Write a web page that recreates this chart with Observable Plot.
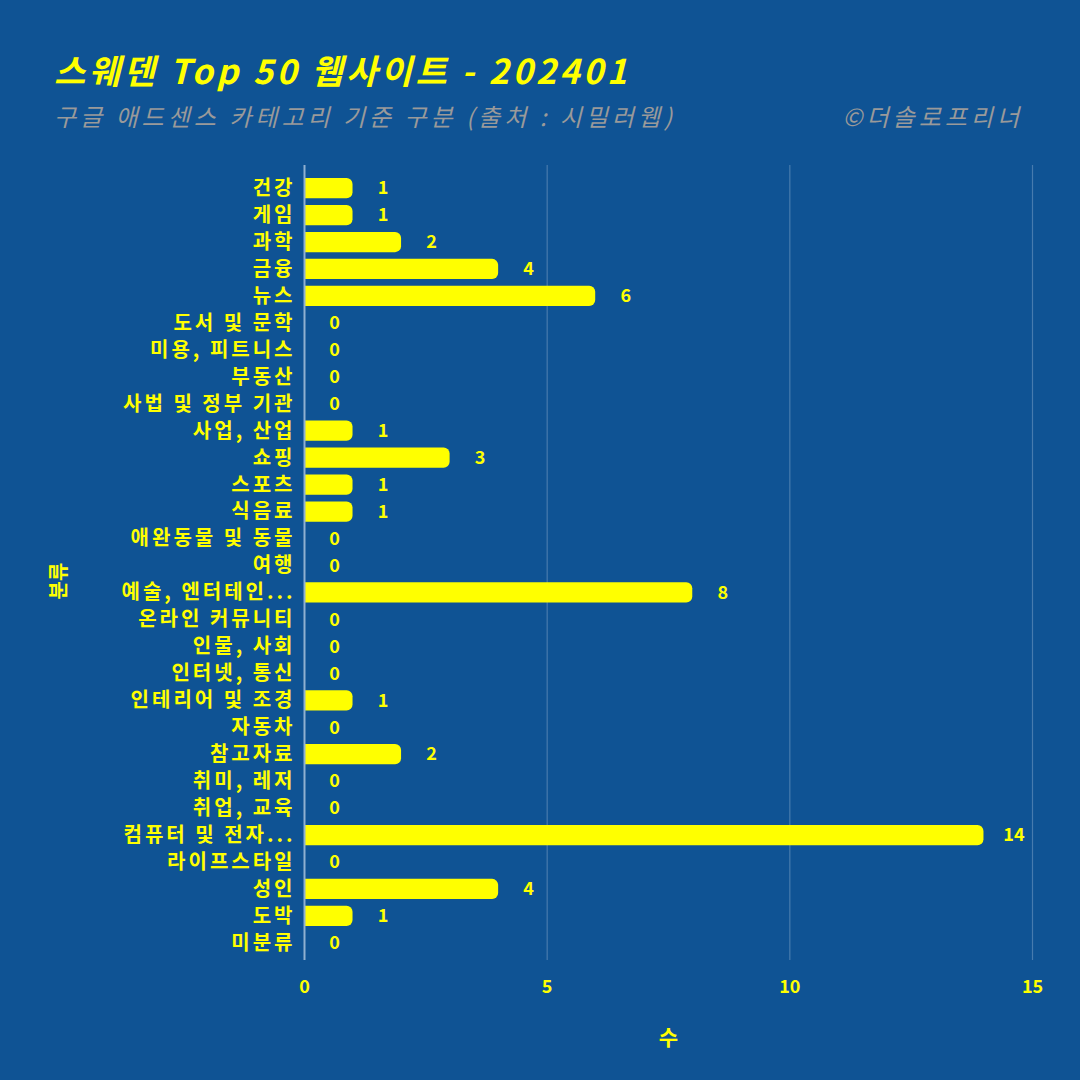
<!DOCTYPE html>
<html><head><meta charset="utf-8">
<script src="https://cdn.jsdelivr.net/npm/d3@7"></script>
<script src="https://cdn.jsdelivr.net/npm/@observablehq/plot@0.6"></script>
<style>
html,body{margin:0;padding:0;background:#0f5394;}
#wrap{position:relative;width:1080px;height:1080px;background:#0f5394;overflow:hidden;font-family:"Noto Sans CJK KR","Noto Sans",sans-serif;}
#title{position:absolute;left:54px;top:45px;font-size:34px;letter-spacing:3.5px;font-weight:bold;font-style:italic;color:#ffff00;white-space:nowrap;}
#subtitle{position:absolute;left:54px;top:98px;font-size:24px;letter-spacing:4px;font-style:italic;color:#9a9a9a;white-space:nowrap;}
#credit{position:absolute;right:57px;top:98px;font-size:24px;letter-spacing:4px;font-style:italic;color:#9a9a9a;white-space:nowrap;}
#ylab{position:absolute;left:57px;top:581px;font-size:20px;font-weight:bold;color:#ffff00;transform:translate(-50%,-50%) rotate(-90deg);white-space:nowrap;}
#chart{position:absolute;left:0;top:0;}
#chart g[aria-label="y-axis tick label"] text{letter-spacing:3px;}
</style></head>
<body><div id="wrap">
<div id="chart"></div>
<div id="title">스웨덴 Top 50 웹사이트 - 202401</div>
<div id="subtitle">구글 애드센스 카테고리 기준 구분 (출처 : 시밀러웹)</div>
<div id="credit">©더솔로프리너</div>
<div id="ylab">분류</div>
</div>
<script>
const categories = ["건강","게임","과학","금융","뉴스","도서 및 문학","미용, 피트니스","부동산","사법 및 정부 기관","사업, 산업","쇼핑","스포츠","식음료","애완동물 및 동물","여행","예술, 엔터테인...","온라인 커뮤니티","인물, 사회","인터넷, 통신","인테리어 및 조경","자동차","참고자료","취미, 레저","취업, 교육","컴퓨터 및 전자...","라이프스타일","성인","도박","미분류"];
const counts = [1,1,2,4,6,0,0,0,0,1,3,1,1,0,0,8,0,0,0,1,0,2,0,0,14,0,4,1,0];
const xTicks = [0,5,10,15];
const xLabel = "수";

const data = categories.map((c,i)=>({cat:c, v:counts[i]}));
const nonzero = data.filter(d=>d.v>0);
const yellow = "#ffff00";

const chart = Plot.plot({
  width:1080, height:1080,
  marginLeft:304, marginRight:48, marginTop:165, marginBottom:120,
  style:{background:"transparent", color:yellow, fontFamily:"'Noto Sans CJK KR','Noto Sans',sans-serif", fontWeight:"bold"},
  x:{domain:[0,15], ticks:xTicks, label:null},
  y:{domain:categories, paddingInner:0.25, paddingOuter:0, round:false, insetTop:13, insetBottom:7, label:null},
  marks:[
    Plot.gridX(xTicks.filter(t=>t>0), {stroke:"#7fa3c8", strokeOpacity:0.5, strokeWidth:1.2}),
    Plot.barX(nonzero, {x1:0, x2:"v", y:"cat", fill:yellow, rx:6, insetLeft:-10, clip:"frame"}),
    Plot.ruleX([0], {stroke:"#8fb0d0", strokeWidth:2}),
    Plot.text(data, {x:"v", y:"cat", text:d=>String(d.v), dx:30, textAnchor:"middle", fill:yellow, fontSize:18, fontWeight:"bold"}),
    Plot.axisY({tickSize:0, tickPadding:9, fontSize:20, fontWeight:"bold", fill:yellow, label:null}),
    Plot.axisX({ticks:xTicks, tickSize:0, tickPadding:20, fontSize:18, fontWeight:"bold", fill:yellow, label:null}),
    Plot.text([xLabel], {frameAnchor:"bottom", dy:84, text:d=>d, fontSize:21, fontWeight:"bold", fill:yellow})
  ]
});
document.getElementById("chart").appendChild(chart);
</script>
</body></html>
